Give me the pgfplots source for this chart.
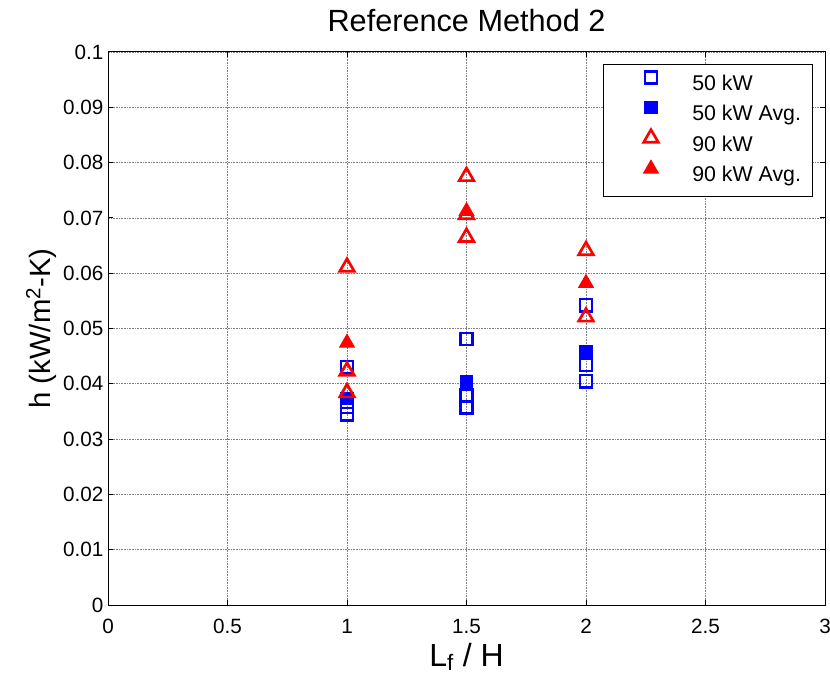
\documentclass[border=0pt]{standalone}
\usepackage{fontspec}
\setmainfont{Liberation Sans}
\usepackage{pgfplots}
\pgfplotsset{compat=1.18}

\definecolor{mblue}{RGB}{0,0,255}
\definecolor{mred}{RGB}{255,0,0}

\begin{document}
\begin{tikzpicture}
% fixed page frame around the plot box
\path[use as bounding box] (-81pt,-57pt) rectangle (541.5pt,453.75pt);
\begin{axis}[
  at={(0,0)}, anchor=south west,
  scale only axis,
  width=537.75pt, height=414.75pt,
  xmin=0, xmax=3, ymin=0, ymax=0.1,
  xtick={0,0.5,...,3},
  ytick={0,0.01,...,0.1},
  scaled y ticks=false,
  yticklabel style={/pgf/number format/fixed,/pgf/number format/precision=2},
  /pgf/number format/assume math mode=true,
  tick label style={font=\fontsize{15.5}{18}\selectfont},
  xticklabel style={yshift=-7pt},
  yticklabel style={xshift=0pt},
  tick align=inside,
  major tick length=3.5pt,
  tick style={black, line width=0.75pt},
  axis line style={line width=0.75pt},
  grid=major,
  major grid style={gray, line width=0.5pt, dash pattern=on 1.2pt off 0.8pt},
  title={Reference Method 2},
  title style={font=\fontsize{23}{27}\selectfont, at={(0.5,1)}, anchor=base, yshift=9pt},
  xlabel={L\textsubscript{f} / H},
  ylabel={h (kW/m\textsuperscript{2}-K)},
  xlabel style={font=\fontsize{24}{28}\selectfont},
  ylabel style={font=\fontsize{22}{26}\selectfont, yshift=-2pt},
  legend style={
    at={(0.983,0.978)}, anchor=north east,
    draw=black, line width=0.75pt,
    inner xsep=0pt, inner ysep=3.75pt,
    font=\fontsize{16}{19}\selectfont,
    column sep=0pt,
    nodes={inner sep=0pt, text height=15.5pt, text depth=7pt},
  },
  legend cell align=left,
  legend image code/.code={%
    \path (0pt,0pt) (64.5pt,0pt);
    \draw[#1] plot coordinates {(34.5pt,5.5pt)};
  },
]

% 50 kW, individual runs
\addplot[only marks, mblue, mark=square, mark size=4.6pt, line width=2pt]
  coordinates {
    (1,0.0430) (1,0.0358) (1,0.0345)
    (1.5,0.0481) (1.5,0.0378) (1.5,0.0357)
    (2,0.0542) (2,0.0434) (2,0.0405)
  };
\addlegendentry{\makebox[90pt][l]{50 kW}}

% 50 kW, averages
\addplot[only marks, mblue, mark=square*, mark size=4.6pt, line width=0.8pt, mark options={fill=mblue}]
  coordinates {
    (1,0.0374) (1.5,0.0404) (2,0.0458)
  };
\addlegendentry{\makebox[90pt][l]{50 kW Avg.}}

% 90 kW, individual runs
\addplot[only marks, mred, mark=triangle, mark size=6.3pt, line width=2pt]
  coordinates {
    (1,0.0611) (1,0.0423) (1,0.0384)
    (1.5,0.0775) (1.5,0.0706) (1.5,0.0665)
    (2,0.0641) (2,0.0521)
  };
\addlegendentry{\makebox[90pt][l]{90 kW}}

% 90 kW, averages
\addplot[only marks, mred, mark=triangle*, mark size=6.3pt, line width=0.8pt, mark options={fill=mred}]
  coordinates {
    (1,0.0474) (1.5,0.0712) (2,0.0582)
  };
\addlegendentry{\makebox[90pt][l]{90 kW Avg.}}

\end{axis}
\end{tikzpicture}
\end{document}
